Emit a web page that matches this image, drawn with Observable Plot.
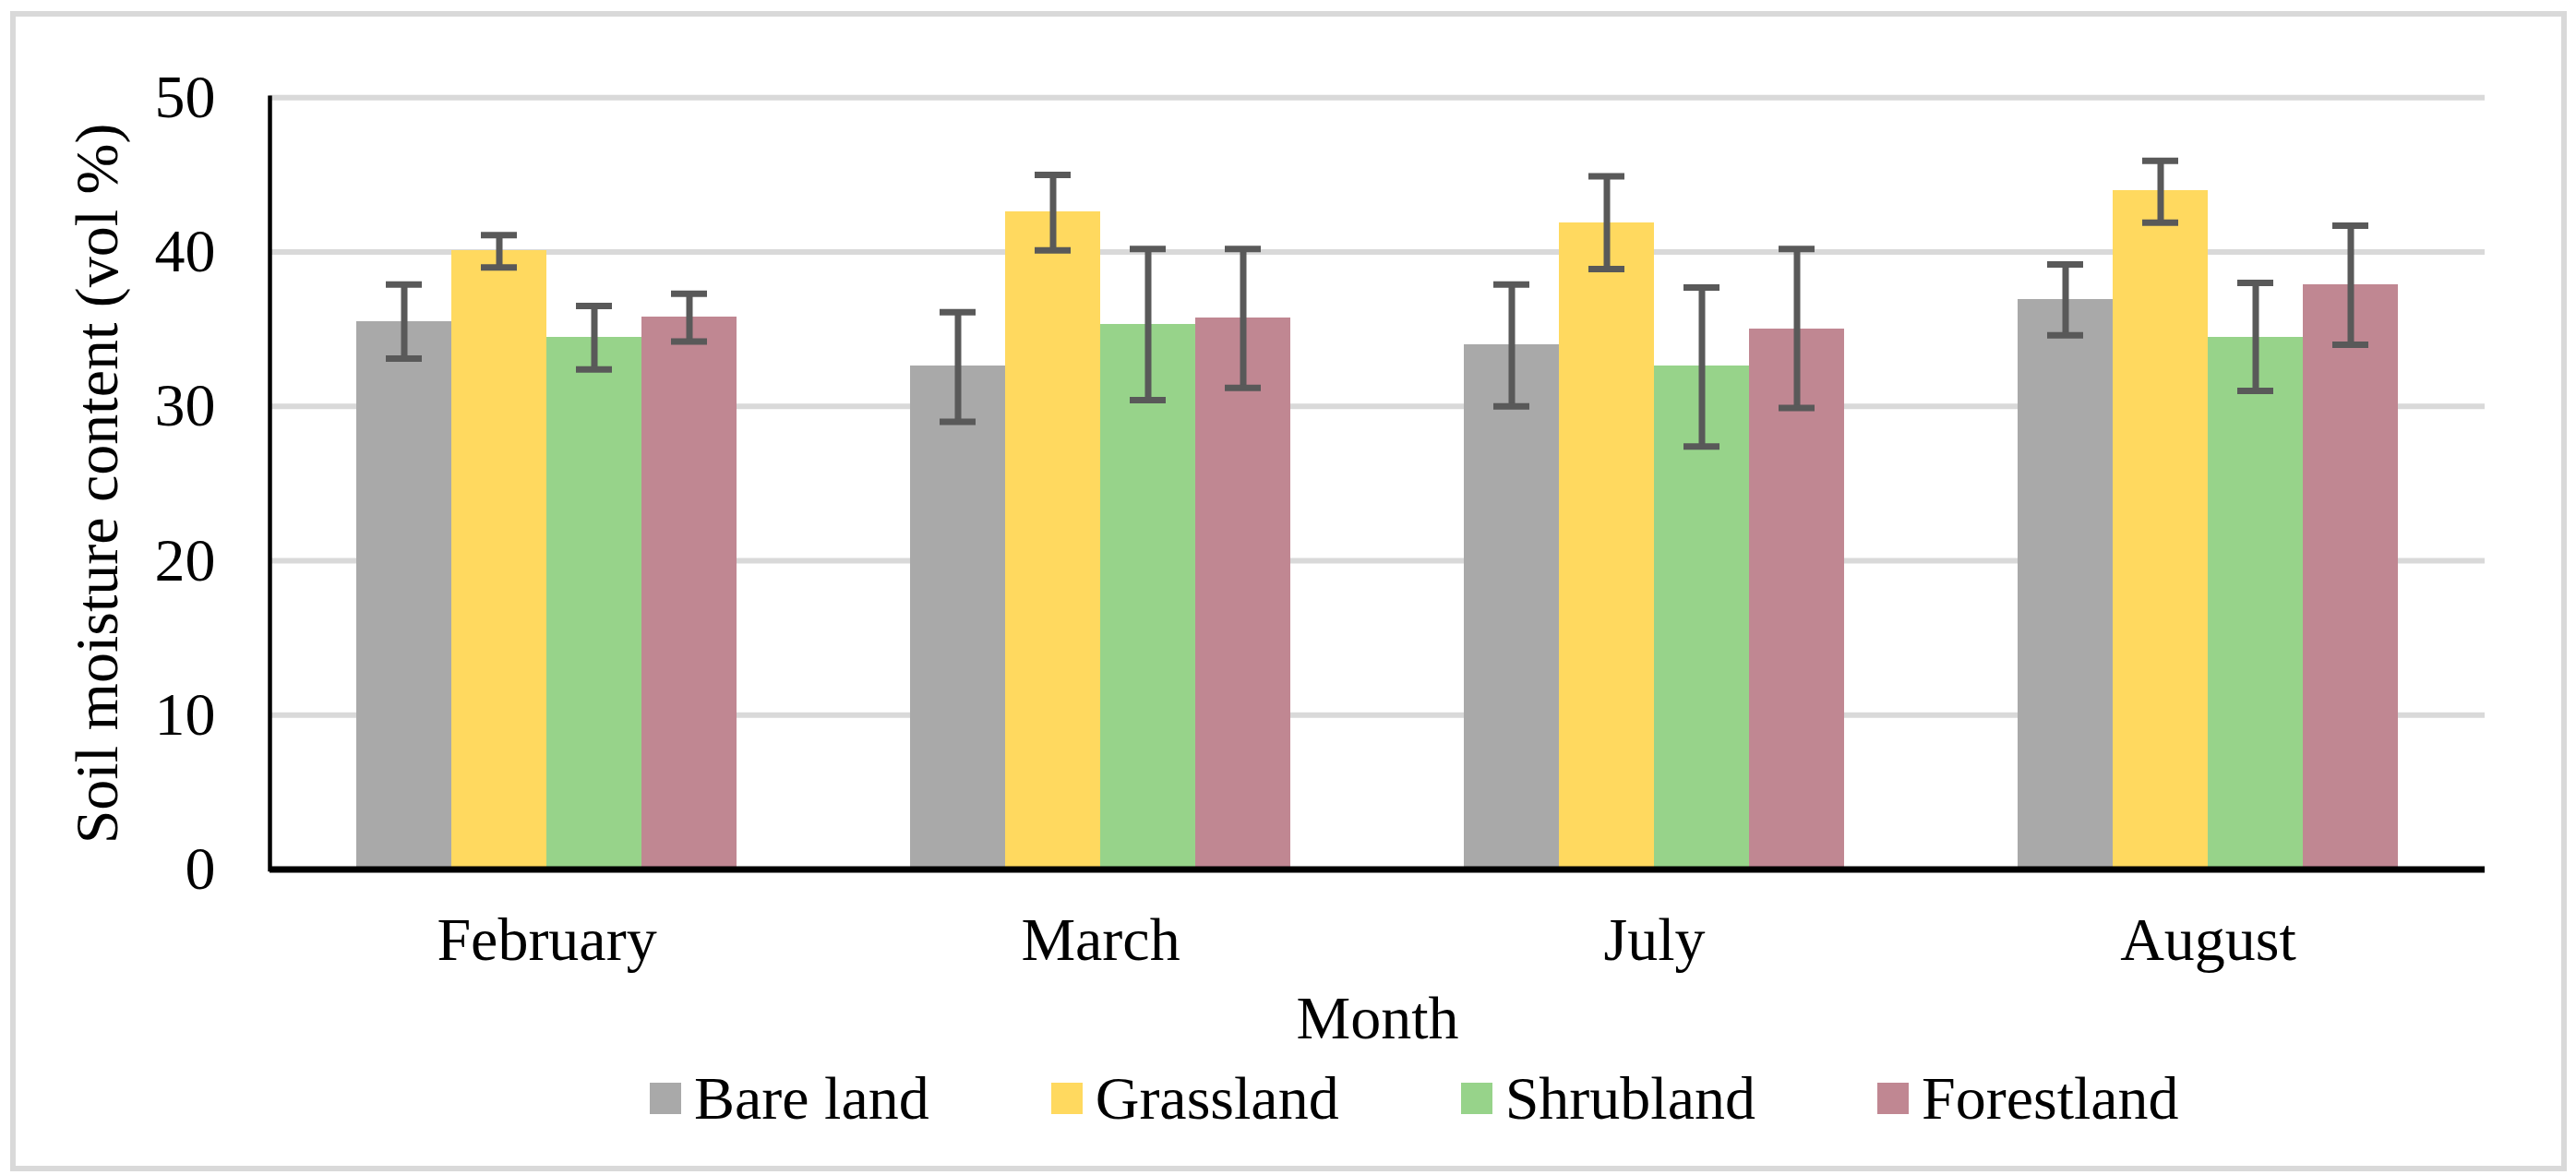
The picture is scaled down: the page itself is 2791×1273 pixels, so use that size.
<!DOCTYPE html>
<html>
<head>
<meta charset="utf-8">
<script src="https://cdn.jsdelivr.net/npm/d3@7"></script>
<script src="https://cdn.jsdelivr.net/npm/@observablehq/plot@0.6"></script>
<style>
html, body { margin: 0; padding: 0; background: #fff; }
#wrap { position: relative; width: 2791px; height: 1273px; overflow: hidden; font-family: "Liberation Serif", "Times New Roman", serif; }
#chart { position: absolute; left: 0; top: 0; }
#border { position: absolute; left: 11px; top: 12px; width: 2770px; height: 1257px; border: 6px solid #d9d9d9; box-sizing: border-box; pointer-events: none; }
#legend { position: absolute; left: 704px; top: 1157px; display: flex; align-items: center; font-size: 66px; line-height: 66px; color: #000; white-space: nowrap; }
#legend .item { display: flex; align-items: center; margin-right: 132px; }
#legend .sw { width: 34px; height: 34px; margin-right: 14px; }
</style>
</head>
<body>
<div id="wrap">
  <div id="chart"></div>
  <div id="legend"></div>
  <div id="border"></div>
</div>
<script>
// ---- data ----
const months = ["February", "March", "July", "August"];
const lands = ["Bare land", "Grassland", "Shrubland", "Forestland"];
const colors = ["#A9A9A9", "#FFD95F", "#97D38A", "#C08792"];
const yTicks = [0, 10, 20, 30, 40, 50];

// means per land type (Feb, Mar, Jul, Aug)
const meanBare   = [35.5, 32.6, 34.0, 36.9];
const meanGrass  = [40.1, 42.6, 41.9, 44.0];
const meanShrub  = [34.5, 35.3, 32.6, 34.5];
const meanForest = [35.8, 35.7, 35.0, 37.9];

// error bar lower ends
const lowBare   = [33.1, 29.0, 30.0, 34.6];
const lowGrass  = [39.0, 40.1, 38.9, 41.9];
const lowShrub  = [32.4, 30.4, 27.4, 31.0];
const lowForest = [34.2, 31.2, 29.9, 34.0];

// error bar upper ends
const highBare   = [37.9, 36.1, 37.9, 39.2];
const highGrass  = [41.1, 45.0, 44.9, 45.9];
const highShrub  = [36.5, 40.2, 37.7, 38.0];
const highForest = [37.3, 40.2, 40.2, 41.7];

const means = [meanBare, meanGrass, meanShrub, meanForest];
const lows = [lowBare, lowGrass, lowShrub, lowForest];
const highs = [highBare, highGrass, highShrub, highForest];

const rows = [];
months.forEach((m, i) => {
  lands.forEach((l, j) => {
    rows.push({month: m, land: l, mean: means[j][i], low: lows[j][i], high: highs[j][i]});
  });
});

const errColor = "#595959";

const chart = Plot.plot({
  width: 2791,
  height: 1273,
  marginLeft: 290,
  marginRight: 97.5,
  marginTop: 105.3,
  marginBottom: 331.5,
  style: {fontFamily: "Liberation Serif, Times New Roman, serif", fontSize: "66px", color: "#000", background: "transparent"},
  fx: {domain: months, padding: 0},
  x: {domain: lands, paddingInner: 0, paddingOuter: 0.909, axis: null},
  y: {domain: [0, 50]},
  color: {domain: lands, range: colors},
  marks: [
    Plot.ruleY(yTicks.filter(d => d > 0), {stroke: "#d9d9d9", strokeWidth: 6}),
    Plot.barY(rows, {fx: "month", x: "land", y: "mean", fill: "land", shapeRendering: "crispEdges"}),
    Plot.ruleX(rows, {fx: "month", x: "land", y1: "low", y2: "high", stroke: errColor, strokeWidth: 7}),
    Plot.tickY(rows, {fx: "month", x: "land", y: "low", stroke: errColor, strokeWidth: 7, insetLeft: 32, insetRight: 32}),
    Plot.tickY(rows, {fx: "month", x: "land", y: "high", stroke: errColor, strokeWidth: 7, insetLeft: 32, insetRight: 32}),
    Plot.ruleY([0], {stroke: "#000", strokeWidth: 7}),
    Plot.frame({anchor: "left", facetAnchor: "left", stroke: "#000", strokeWidth: 4.5}),
    Plot.axisY({ticks: yTicks, tickSize: 0, tickPadding: 59, label: "Soil moisture content (vol %)", labelAnchor: "center", labelOffset: 212, labelArrow: "none"}),
    Plot.axisFx({anchor: "bottom", tickSize: 0, tickPadding: 51.6, label: "Month", labelAnchor: "center", labelOffset: 182.6, labelArrow: "none"})
  ]
});
document.getElementById("chart").appendChild(chart);

// legend
const legend = document.getElementById("legend");
lands.forEach((l, j) => {
  const item = document.createElement("div");
  item.className = "item";
  const sw = document.createElement("div");
  sw.className = "sw";
  sw.style.background = colors[j];
  const tx = document.createElement("span");
  tx.textContent = l;
  item.appendChild(sw);
  item.appendChild(tx);
  legend.appendChild(item);
});
</script>
</body>
</html>
